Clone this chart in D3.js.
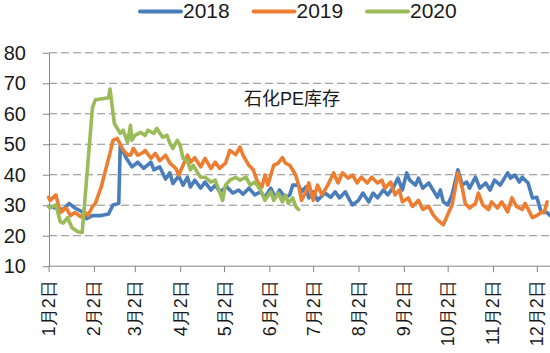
<!DOCTYPE html>
<html><head><meta charset="utf-8">
<script src="https://cdn.jsdelivr.net/npm/d3@7"></script>
<style>
html,body{margin:0;padding:0;background:#fff;}
svg{display:block;font-family:"Liberation Sans",Arial,"Noto Sans CJK SC",sans-serif;}
</style></head>
<body>
<svg id="c" width="550" height="353"></svg>
<script>
// ---- data (day offsets from Jan 2, values) ----
const seriesNames = ["2018", "2019", "2020"];
const seriesColors = ["#4a7ebb", "#ed7d31", "#9bbb59"];
const chartTitle = "石化PE库存";
const yTicks = [10, 20, 30, 40, 50, 60, 70, 80];
const monthTicks = [0,1,2,3,4,5,6,7,8,9,10,11];
const tickLabels = ["1月2日","2月2日","3月2日","4月2日","5月2日","6月2日","7月2日","8月2日","9月2日","10月2日","11月2日","12月2日"];

const days2018 = [0,5,10,14,18,24,26,30,36,41,44,48,49,53,57,61,65,70,72,76,80,83,85,89,92,95,97,100,104,107,111,114,117,122,126,130,133,137,141,145,148,152,155,158,162,165,167,171,173,176,178,181,184,189,193,196,199,203,206,208,212,215,219,222,225,229,232,236,239,242,245,247,251,253,256,260,263,266,268,270,273,276,280,283,286,288,292,295,299,302,305,309,314,316,319,322,324,328,331,334,337,341,343];
const vals2018 = [29.6,29.1,28.6,30.6,29.1,27.6,25.6,26.6,26.6,27.1,30.1,30.6,49.6,45.6,42.6,44.1,42.1,44.1,41.6,42.6,38.6,40.6,37.1,39.6,36.6,39.2,36,38.2,35.6,37.6,35,36.6,34.4,36,34,35,33.6,35.6,33.4,34.4,32.6,35.6,32.6,35,32.4,33.4,36.6,36.6,34.4,36,32.4,34.4,31.6,34,32.6,34.4,32.4,34.4,31.6,30.1,31.6,34,31.1,34,32.4,35,33.4,36,38.9,35,40.6,38.2,36.6,38.9,35.6,37.3,35,32.6,35,31.1,30.1,33.4,41.6,36.6,37.6,35.6,39.2,35.6,37.3,35,38.2,36.6,40.6,38.9,39.9,37.6,39.2,37.3,32.4,32.6,27.6,27.6,26.6];

const days2019 = [0,1,5,8,12,15,18,22,25,27,30,32,36,39,42,44,47,51,54,56,58,61,65,66,70,73,76,80,83,87,89,92,95,97,100,104,107,111,114,117,121,124,128,131,133,137,140,143,146,148,150,154,157,160,162,165,169,171,173,176,178,181,184,187,191,193,195,198,201,205,208,211,214,218,221,225,228,230,234,237,240,242,246,249,253,256,260,263,266,270,273,276,278,280,283,285,288,292,294,297,301,303,307,310,314,317,320,324,326,329,331,335,337,339,341];
const vals2019 = [32.6,31.6,33.4,27.6,29.1,26.6,27.6,26.2,27.6,26.6,29.6,30.6,36,41.6,47.1,51.3,51.9,48.1,46.6,46.4,48.6,46.4,47.4,48,45.4,47,44.6,46.4,43.8,42.1,39.9,43.1,46.4,44.1,45.6,42.6,45.4,42.1,44.1,42.1,43.8,48,46.6,49.1,46.4,43.1,41.6,37.6,36,39.9,36.6,43.1,43.8,45.6,43.8,43.1,39.9,36.6,31.6,34.4,37.3,31.6,36.6,33.4,36.6,38.6,40.6,37.3,40.6,38.9,39.9,37.3,39.2,37.3,39.2,37.3,38.2,35.6,37.6,33.4,35,31.1,32.4,29.6,31.6,28.6,29.6,26.9,25.2,23.6,26.9,30.1,35,40.6,35.6,30.6,29.1,30.6,34,30.1,28.6,31.1,29.1,31.1,27.8,32.4,29.6,28.6,30.6,27.8,25.9,26.9,27.8,27.6,31.1];

const days2020 = [0,1,5,8,10,13,16,20,23,30,32,38,41,42,43,45,47,49,51,54,56,57,59,63,66,68,72,74,78,81,83,85,88,90,92,95,97,99,102,104,107,111,114,116,119,121,124,128,131,135,138,141,145,148,152,154,157,160,162,164,167,169,171];
const vals2020 = [29.6,29.1,30.1,24.6,24.1,25.9,22.6,21.3,21.1,62,64.6,65,65.3,68.1,64.3,56.8,55.2,53.6,54.6,50.6,56.2,51.3,52.9,53.9,52.9,54.6,53.6,55.2,52.3,52.9,50.3,48.6,51.3,49.6,45.4,44.6,41.6,43.1,40.6,39.2,39.2,37.6,38.2,35.6,31.6,36.6,38.2,39.1,38.2,39.2,36.6,37.6,35,31.6,34.4,31.6,34,31.1,33.4,30.6,32.4,29.6,28.6];

const allDays = [days2018, days2019, days2020];
const allVals = [vals2018, vals2019, vals2020];

// ---- drawing ----
const svg = d3.select("#c");
const base = new Date(2019, 0, 2);
const x = d3.scaleTime().domain([base, d3.timeDay.offset(base, 343)]).range([48.6, 550]);
const y = d3.scaleLinear().domain([10, 80]).range([266.2, 52.8]);
const axisColor = "#868686";

// gridlines
svg.append("g").selectAll("line").data(yTicks.filter(v => v > 10)).join("line")
  .attr("x1", 49).attr("x2", 550)
  .attr("y1", d => y(d)).attr("y2", d => y(d))
  .attr("stroke", "#8c8c8c").attr("stroke-width", 1).attr("stroke-dasharray", "8,4");

// y axis
const yAxis = d3.axisLeft(y).tickValues(yTicks).tickSize(6).tickSizeOuter(0).tickPadding(17);
const gy = svg.append("g").attr("transform", "translate(49,0)").call(yAxis);
gy.select(".domain").attr("stroke", axisColor);
gy.selectAll(".tick line").attr("stroke", axisColor);
gy.selectAll(".tick text").attr("font-size", 20).attr("fill", "#1a1a1a")
  .attr("font-family", "Liberation Sans, Arial, sans-serif");

// x axis
const tickDates = monthTicks.map(m => new Date(2019, m, 2));
const xAxis = d3.axisBottom(x).tickValues(tickDates).tickSize(6).tickSizeOuter(0)
  .tickFormat((d, i) => tickLabels[i]);
const gx = svg.append("g").attr("transform", `translate(0,${y(10)})`).call(xAxis);
gx.select(".domain").attr("stroke", axisColor).attr("d", `M49,0H550`);
gx.selectAll(".tick line").attr("stroke", axisColor);
gx.selectAll(".tick text")
  .attr("font-size", 18).attr("fill", "#1a1a1a")
  .attr("text-anchor", "end")
  .attr("dy", null).attr("y", 0)
  .attr("dominant-baseline", "central")
  .attr("transform", "translate(0,14) rotate(-90)");

// lines
const line = d3.line().x(d => x(d3.timeDay.offset(base, d[0]))).y(d => y(d[1]));
seriesNames.forEach((name, i) => {
  const pts = allDays[i].map((dd, j) => [dd, allVals[i][j]]);
  svg.append("path").datum(pts)
    .attr("fill", "none").attr("stroke", seriesColors[i])
    .attr("stroke-width", 3.6).attr("stroke-linejoin", "round").attr("stroke-linecap", "round")
    .attr("d", line);
});

// title inside plot
svg.append("text").attr("x", 244).attr("y", 105).attr("font-size", 18).attr("fill", "#1a1a1a")
  .text(chartTitle);

// legend
const lg = svg.append("g");
seriesNames.forEach((name, i) => {
  const x0 = 140 + i * 113.5;
  lg.append("line").attr("x1", x0).attr("x2", x0 + 41).attr("y1", 11.6).attr("y2", 11.6)
    .attr("stroke", seriesColors[i]).attr("stroke-width", 4).attr("stroke-linecap", "round");
  lg.append("text").attr("x", x0 + 43).attr("y", 18).attr("font-size", 21).attr("fill", "#1a1a1a")
    .text(name);
});
</script>
</body></html>
